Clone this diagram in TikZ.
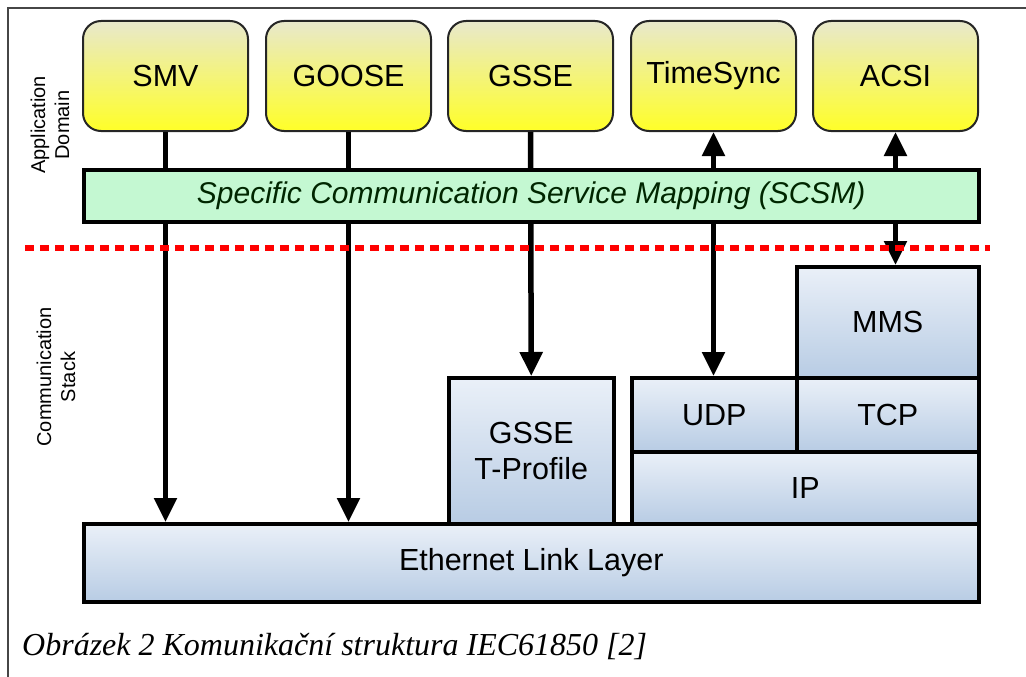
\documentclass[tikz,border=0pt]{standalone}
\usepackage{fontspec}
\setmainfont{Liberation Sans}
\newfontfamily\capfont{Liberation Serif}
\usepackage{tikz}
\usetikzlibrary{arrows.meta}

\definecolor{yeltop}{RGB}{232,232,204}
\definecolor{yelbot}{RGB}{255,255,40}
\definecolor{bluetop}{RGB}{234,240,248}
\definecolor{bluebot}{RGB}{184,204,228}
\definecolor{scsmgreen}{RGB}{196,248,210}
\definecolor{framegray}{RGB}{70,70,70}

\begin{document}
\begin{tikzpicture}[x=1pt,y=-1pt,>={Triangle[width=22pt,length=24pt]},
	appbox/.style={draw=black!85,line width=2pt,rounded corners=18pt,top color=yeltop,bottom color=yelbot,
		anchor=north west,minimum width=165pt,minimum height=110pt,inner sep=0pt,
		font=\fontsize{30.5}{34}\selectfont},
	stackbox/.style={draw=black,line width=3.5pt,top color=bluetop,bottom color=bluebot,
		anchor=north west,inner sep=0pt,align=center,font=\fontsize{30.5}{36}\selectfont},
	flow/.style={line width=5.5pt},
	sidelabel/.style={rotate=90,align=center,font=\fontsize{20}{24}\selectfont}]
				\useasboundingbox (0,0) rectangle (1026,677);
				\draw[framegray,line width=2pt] (8,677) -- (8,8) -- (1026,8);

				% application domain
				\node[appbox] (smv) at (82, 20) {SMV};
				\node[appbox] (goose) at (265, 20) {GOOSE};
				\node[appbox] (gsse) at (447, 20) {GSSE};
				\node[appbox] (tsync) at (630, 20) {TimeSync};
				\node[appbox] (acsi) at (812, 20) {ACSI};

				% communication stack
				\node[stackbox,minimum width=182pt,minimum height=111pt] (mms) at (795, 265) {MMS};
				\node[stackbox,minimum width=165pt,minimum height=74pt] (udp) at (630, 376) {UDP};
				\node[stackbox,minimum width=182pt,minimum height=74pt] (tcp) at (795, 376) {TCP};
				\node[stackbox,minimum width=347pt,minimum height=72pt] (ip) at (630, 450) {IP};
				\node[stackbox,minimum width=165pt,minimum height=146pt] (gprof) at (447, 376) {GSSE\\T-Profile};
				\node[stackbox,minimum width=895pt,minimum height=78pt] (eth) at (82, 522) {Ethernet Link Layer};

				\draw[->,flow] (smv.south) -- (smv.south |- eth.north);
				\draw[->,flow] (goose.south) -- (goose.south |- eth.north);
				\draw[->,flow] (gsse.south) -- (gprof.north);
				\draw[<->,flow] (tsync.south) -- (tsync.south |- udp.north);
				\draw[<->,flow] (acsi.south) -- (acsi.south |- mms.north);

				% mapping layer lies over the arrows
				\node[draw=black,line width=3.5pt,fill=scsmgreen,anchor=north west,minimum width=895pt,minimum height=52pt,
					inner sep=0pt,font=\fontsize{30}{34}\selectfont\itshape,text=black!85!green] (scsm) at (82, 168)
					{Specific Communication Service Mapping (SCSM)};

				\draw[red,line width=6pt,dash pattern=on 9pt off 6pt] (25, 248) -- (990, 248);

				\node[sidelabel] (appdom) at (50, 125) {Application\\Domain};
				\node[sidelabel] (comstack) at (56, 377) {Communication\\Stack};

				\node[anchor=base west,inner sep=0pt,font=\capfont\fontsize{32}{36}\selectfont\itshape] (caption) at (22, 655)
					{Obrázek 2 Komunikační struktura IEC61850 [2]};
			\end{tikzpicture}
\end{document}
